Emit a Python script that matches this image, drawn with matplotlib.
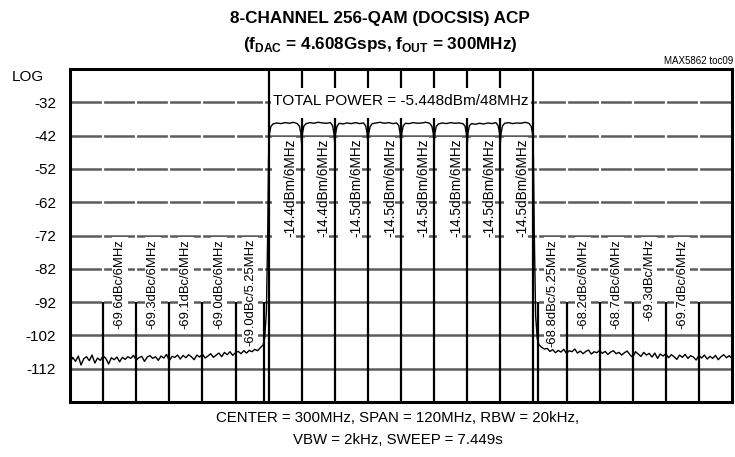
import matplotlib
matplotlib.use("Agg")
import matplotlib.pyplot as plt
import numpy as np
from matplotlib.patches import Rectangle

plt.rcParams["font.family"] = ["Liberation Sans", "DejaVu Sans"]
plt.rcParams["mathtext.fontset"] = "custom"
plt.rcParams["mathtext.rm"] = "Liberation Sans"
plt.rcParams["mathtext.bf"] = "Liberation Sans:bold"

# --- data --------------------------------------------------------------
y_ticks = [-32, -42, -52, -62, -72, -82, -92, -102, -112]

main_edges = [276, 282, 288, 294, 300, 306, 312, 318, 324]
main_labels = ["-14.4dBm/6MHz", "-14.4dBm/6MHz", "-14.5dBm/6MHz", "-14.5dBm/6MHz",
               "-14.5dBm/6MHz", "-14.5dBm/6MHz", "-14.5dBm/6MHz", "-14.5dBm/6MHz"]

left_edges = [246, 252, 258, 264, 270, 275.25]
left_labels = ["-69.6dBc/6MHz", "-69.3dBc/6MHz", "-69.1dBc/6MHz",
               "-69.0dBc/6MHz", "-69.0dBc/5.25MHz"]
right_edges = [324.75, 330, 336, 342, 348, 354]
right_labels = ["-68.8dBc/5.25MHz", "-68.2dBc/6MHz", "-68.7dBc/6MHz",
                "-69.3dBc/MHz", "-69.7dBc/6MHz"]

noise_left_mhz = np.arange(240.0, 275.01, 0.5)
noise_left_dbm = [
    -110.2, -108.6, -109.8, -108.2, -110.9, -109.0, -108.4, -109.6, -107.9, -110.3,
    -108.8, -109.5, -108.1, -108.9, -110.6, -108.7, -109.3, -108.5, -109.9, -108.6,
    -109.2, -108.4, -108.9, -108.0, -109.4, -108.7, -108.3, -109.8, -108.5, -108.1,
    -108.9, -108.4, -109.5, -108.2, -108.8, -107.7, -109.6, -108.3, -108.6, -107.9,
    -109.1, -108.0, -108.7, -107.8, -108.4, -109.3, -107.9, -108.5, -107.6, -108.8,
    -108.2, -107.5, -108.6, -107.9, -107.3, -108.4, -107.1, -107.8, -106.9, -108.0,
    -107.2, -106.8, -107.5, -106.6, -107.3, -106.5, -106.9, -106.2, -106.6, -105.7,
    -104.9,
]

band_mhz = [
    275.3, 275.6, 275.85, 276.0,
    276.15, 276.4, 276.8, 277.5, 278.2, 279.0, 279.8, 280.5, 281.2, 281.6, 281.85, 282.0,
    282.15, 282.4, 282.8, 283.5, 284.2, 285.0, 285.8, 286.5, 287.2, 287.6, 287.85, 288.0,
    288.15, 288.4, 288.8, 289.5, 290.2, 291.0, 291.8, 292.5, 293.2, 293.6, 293.85, 294.0,
    294.15, 294.4, 294.8, 295.5, 296.2, 297.0, 297.8, 298.5, 299.2, 299.6, 299.85, 300.0,
    300.15, 300.4, 300.8, 301.5, 302.2, 303.0, 303.8, 304.5, 305.2, 305.6, 305.85, 306.0,
    306.15, 306.4, 306.8, 307.5, 308.2, 309.0, 309.8, 310.5, 311.2, 311.6, 311.85, 312.0,
    312.15, 312.4, 312.8, 313.5, 314.2, 315.0, 315.8, 316.5, 317.2, 317.6, 317.85, 318.0,
    318.15, 318.4, 318.8, 319.5, 320.2, 321.0, 321.8, 322.5, 323.2, 323.6, 323.85, 324.0,
    324.15, 324.4, 324.7,
]
band_dbm = [
    -102.5, -95.0, -70.0, -48.0,
    -41.5, -39.3, -38.5, -38.2, -38.4, -38.1, -38.3, -38.0, -38.4, -39.2, -41.3, -44.6,
    -41.2, -39.1, -38.4, -38.1, -38.3, -38.0, -38.2, -38.3, -38.1, -39.0, -41.4, -44.8,
    -41.3, -39.2, -38.3, -38.5, -38.2, -38.4, -38.1, -38.4, -38.2, -39.1, -41.2, -44.5,
    -41.4, -39.3, -38.4, -38.2, -38.0, -38.3, -38.1, -38.4, -38.2, -39.0, -41.5, -44.7,
    -41.2, -39.1, -38.3, -38.4, -38.1, -38.3, -38.2, -38.0, -38.3, -39.2, -41.3, -44.6,
    -41.3, -39.2, -38.5, -38.2, -38.4, -38.1, -38.3, -38.2, -38.4, -39.1, -41.4, -44.9,
    -41.2, -39.0, -38.4, -38.6, -38.3, -38.5, -38.2, -38.4, -38.1, -39.0, -41.2, -44.6,
    -41.3, -39.1, -38.3, -38.1, -38.4, -38.2, -38.3, -38.0, -38.3, -39.2, -41.5, -48.0,
    -70.0, -96.0, -103.0,
]

noise_right_mhz = np.arange(325.0, 360.01, 0.5)
noise_right_dbm = [
    -104.8, -105.6, -106.1, -105.9, -106.8, -106.3, -107.2, -106.5, -107.0, -106.2,
    -107.4, -106.6, -106.9, -106.1, -107.3, -106.7, -107.5, -106.8, -106.4, -107.6,
    -106.9, -107.2, -106.5, -107.4, -106.8, -107.7, -107.0, -106.6, -107.5, -107.1,
    -107.9, -107.2, -106.7, -107.8, -108.6, -106.9, -107.6, -108.3, -107.1, -107.9,
    -107.4, -108.5, -107.3, -108.9, -107.6, -108.2, -107.5, -108.7, -107.8, -108.4,
    -109.2, -107.9, -108.6, -107.7, -108.9, -108.1, -108.5, -109.4, -108.0, -108.8,
    -107.9, -109.1, -108.3, -108.9, -108.0, -109.3, -108.4, -107.8, -108.7, -108.1,
    -109.0,
]

trace_mhz = np.concatenate([noise_left_mhz, band_mhz, noise_right_mhz])
trace_dbm = np.concatenate([noise_left_dbm, band_dbm, noise_right_dbm])

# --- figure -------------------------------------------------------------
W, H = 735, 457


def fx(px):
    return px / W


def fy(py):
    return 1 - py / H


fig = plt.figure(figsize=(W / 100, H / 100), dpi=100)
ax = fig.add_axes([fx(70), fy(402), (732 - 70) / W, (402 - 69) / H])
ax.set_xlim(240, 360)
ax.set_ylim(-122, -22)

ax.hlines(y_ticks, 240, 360, color="#5c5c5c", lw=1.8, zorder=1)
# small breaks in the graticule where the adjacent-channel markers stop
adj_edges = left_edges + right_edges
ax.vlines(adj_edges, -92, -22, color="white", lw=1.6, zorder=1.5)
ax.vlines(main_edges, -122, -22, color="black", lw=1.6, zorder=2)
ax.vlines(adj_edges, -122, -92, color="black", lw=1.6, zorder=2)

ax.plot(trace_mhz, trace_dbm, color="black", lw=1.0, zorder=4.5)

# white label panels inside the occupied channels
for lo, hi, label in zip(main_edges[:-1], main_edges[1:], main_labels):
    ax.add_patch(Rectangle((lo + 0.6, -72.7), 4.4, 30.2, fc="white", ec="none", zorder=3))
    ax.text((lo + hi) / 2 + 1.0, -43.0, label, rotation=90, ha="center", va="top",
            fontsize=9.8, zorder=4)

for edges, labels in ((left_edges, left_labels), (right_edges, right_labels)):
    for lo, hi, label in zip(edges[:-1], edges[1:], labels):
        ax.text((lo + hi) / 2, -73.0, label, rotation=90, ha="center", va="top",
                fontsize=9.4, zorder=4,
                bbox=dict(fc="white", ec="none", pad=1.5))

ax.add_patch(Rectangle((276.4, -36.8), 47.2, 9.0, fc="white", ec="none", zorder=3))
ax.text(300, -31.6, "TOTAL POWER = -5.448dBm/48MHz", ha="center", va="center",
        fontsize=11.1, zorder=4)

ax.set_xticks([])
ax.set_yticks(y_ticks)
ax.set_yticklabels([str(v) for v in y_ticks], fontsize=11)
ax.tick_params(axis="y", length=0, pad=10)
for spine in ax.spines.values():
    spine.set_linewidth(2.2)
    spine.set_zorder(5)

fig.text(fx(12), fy(77), "LOG", ha="left", va="center", fontsize=11)
fig.text(fx(380), fy(18), "8-CHANNEL 256-QAM (DOCSIS) ACP", ha="center", va="center",
         fontsize=12.3, fontweight="bold")
fig.text(fx(380), fy(44), r"(f$_{\mathbf{DAC}}$ = 4.608Gsps, f$_{\mathbf{OUT}}$ = 300MHz)",
         ha="center", va="center", fontsize=12.3, fontweight="bold")
fig.text(fx(733), fy(61), "MAX5862 toc09", ha="right", va="center", fontsize=7)
fig.text(fx(398), fy(418), "CENTER = 300MHz, SPAN = 120MHz, RBW = 20kHz,",
         ha="center", va="center", fontsize=10.8)
fig.text(fx(398), fy(440), "VBW = 2kHz, SWEEP = 7.449s", ha="center", va="center",
         fontsize=10.8)

fig.savefig("out.png", dpi=100)
